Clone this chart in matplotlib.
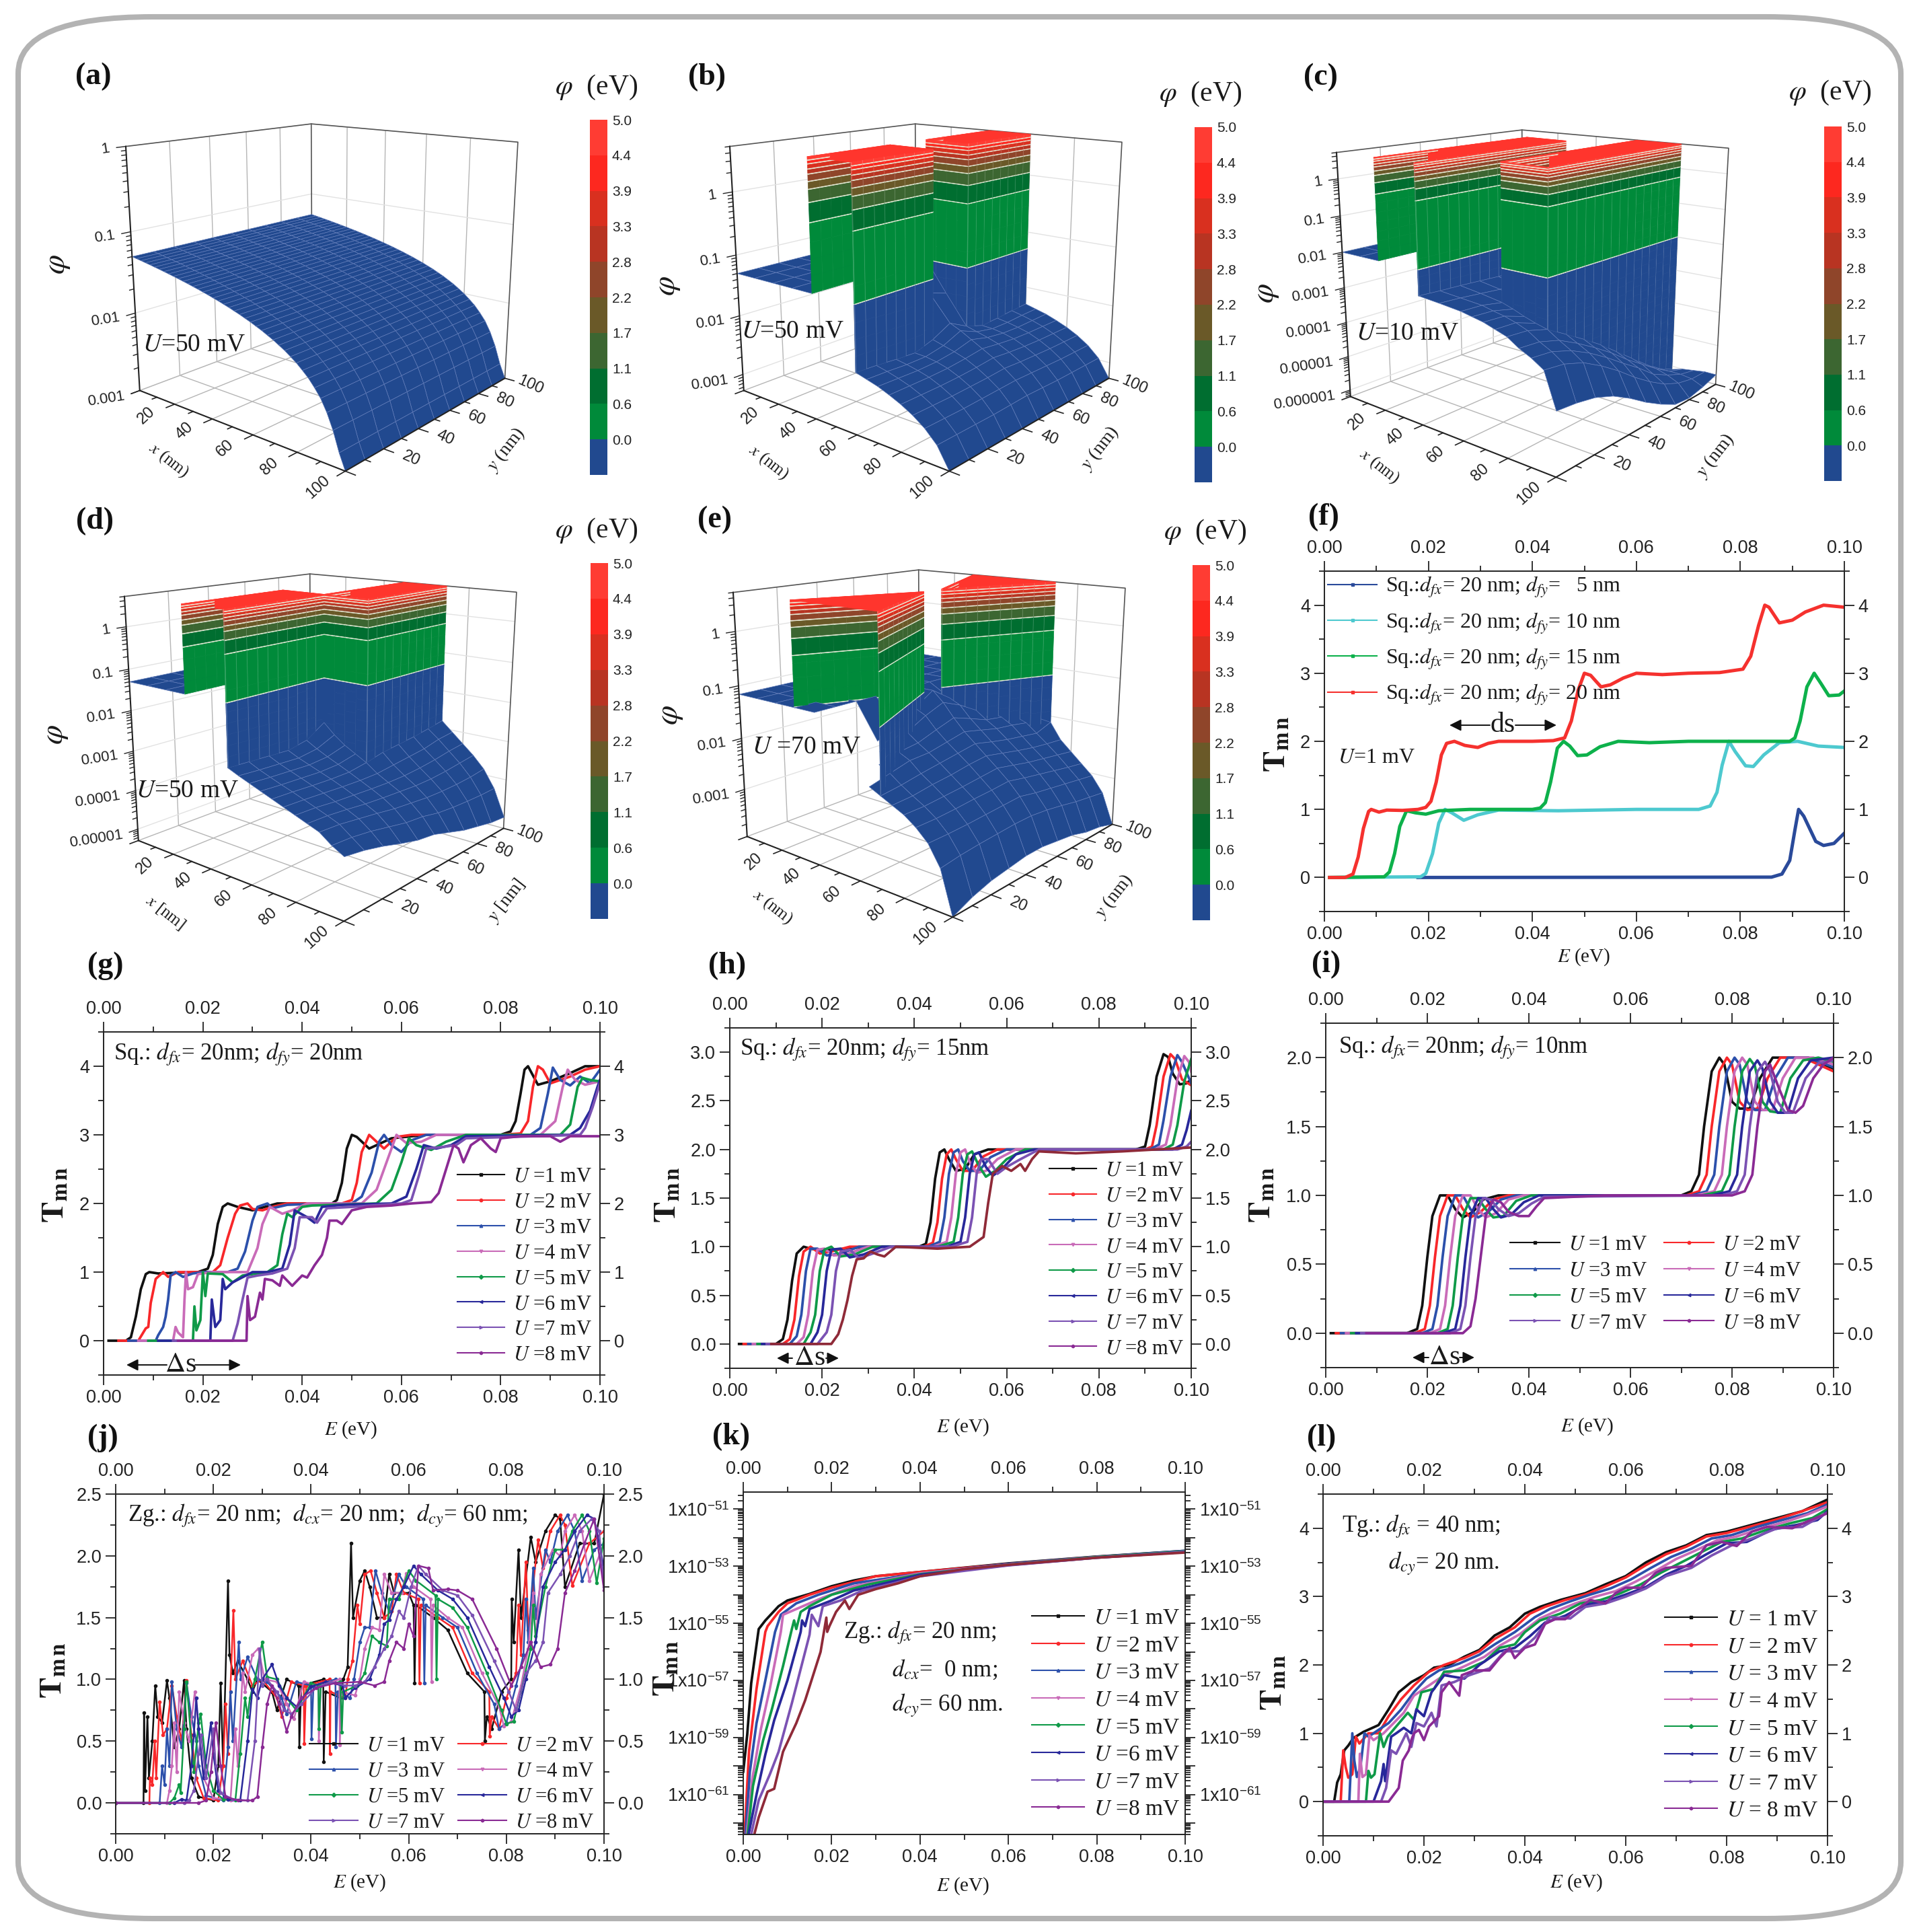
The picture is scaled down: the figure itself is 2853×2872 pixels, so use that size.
# transmission curves and potential surfaces, 12 panels
import numpy as np
import matplotlib
matplotlib.use("Agg")
import matplotlib.pyplot as plt
from matplotlib.colors import ListedColormap, BoundaryNorm, to_rgb
from matplotlib.lines import Line2D
from matplotlib.patches import FancyBboxPatch
from matplotlib.ticker import MultipleLocator, FixedLocator, NullFormatter, FormatStrFormatter
from mpl_toolkits.mplot3d.art3d import Poly3DCollection
from mpl_toolkits.mplot3d import proj3d

plt.rcParams['font.family'] = 'Liberation Sans'
plt.rcParams['mathtext.fontset'] = 'stix'

W, H = 2853, 2872
SERIF = 'Liberation Serif'

# ---- colour bar ----
bar_labels = ['0.0', '0.6', '1.1', '1.7', '2.2', '2.8', '3.3', '3.9', '4.4', '5.0']
bar_levels = [0.0001, 0.56, 1.1, 1.7, 2.2, 2.8, 3.3, 3.9, 4.4, 5.0]
BLUE = '#21498f'
band_colors = ['#008a3a', '#006e30', '#3c6631', '#6a5928', '#8f452a', '#b83422', '#d9301f', '#fd281f', '#ff3c33']

# ---- surfaces, log10(phi) ----
a_x = [0, 2.5, 5, 7.5, 10, 12.5, 15, 17.5, 20, 22.5, 25, 27.5, 30, 32.5, 35, 37.5, 40, 42.5, 45, 47.5, 50,
       52.5, 55, 57.5, 60, 62.5, 65, 67.5, 70, 72.5, 75, 77.5, 80, 82.5, 85, 87.5, 90, 92.5, 95, 97.5, 100]
a_phi = [.0500, .0487, .0475, .0462, .0450, .0437, .0425, .0412, .0400, .0387, .0375, .0362, .0350, .0337,
         .0325, .0312, .0300, .0287, .0275, .0262, .0250, .0237, .0225, .0212, .0200, .0187, .0175, .0162,
         .0150, .0137, .0125, .0112, .0100, .0087, .0075, .0062, .0050, .0037, .0025, .0015, .0010]
a_y = [0, 10, 20, 30, 40, 50, 60, 70, 80, 90, 100]

grid_y = [0, 10, 20, 30, 40, 50, 60, 70, 80, 90, 100]

b_x = [0, 10, 20, 30, 40, 50, 60, 65, 70, 75, 80, 85, 90, 95, 100]
b_blocks = [[(40, 0), (60, 0), (60, 40), (40, 40)], [(40, 60), (60, 60), (60, 100), (40, 100)]]
b_z = [
    [-1.30, -2.31, -2.36, -2.41, -2.48, -2.56, -2.66, -2.79, -2.97, -3.28],
    [-1.30, -2.33, -2.37, -2.42, -2.48, -2.56, -2.66, -2.79, -2.97, -3.28],
    [-1.30, -2.36, -2.39, -2.43, -2.48, -2.56, -2.66, -2.79, -2.97, -3.28],
    [-1.30, -2.38, -2.39, -2.42, -2.47, -2.55, -2.65, -2.78, -2.97, -3.28],
    [-1.80, -2.28, -2.33, -2.38, -2.44, -2.53, -2.64, -2.77, -2.96, -3.28],
    [-1.70, -2.12, -2.20, -2.30, -2.40, -2.50, -2.62, -2.76, -2.95, -3.28],
    [-1.80, -2.28, -2.33, -2.38, -2.44, -2.53, -2.64, -2.77, -2.96, -3.28],
    [-1.30, -2.38, -2.39, -2.42, -2.47, -2.55, -2.65, -2.78, -2.97, -3.28],
    [-1.30, -2.36, -2.39, -2.43, -2.48, -2.56, -2.66, -2.79, -2.97, -3.28],
    [-1.30, -2.33, -2.37, -2.42, -2.48, -2.56, -2.66, -2.79, -2.97, -3.28],
    [-1.30, -2.31, -2.36, -2.41, -2.48, -2.56, -2.66, -2.79, -2.97, -3.28]]

c_x = [0, 10, 20, 30, 40, 50, 60, 65, 70, 75, 80, 85, 90, 95, 100]
c_blocks = [[(20, 0), (40, 0), (40, 80), (20, 80)], [(60, 20), (80, 20), (80, 100), (60, 100)]]
c_z = [
    [-2, -2.67, -2.72, -2.78, -2.84, -2.90, -3.0, -3.10, -3.30, -3.45, -3.65, -4.55],
    [-2, -2.70, -2.75, -2.80, -2.87, -2.93, -3.02, -3.14, -3.34, -3.50, -3.72, -4.60],
    [-2, -2.72, -2.80, -2.90, -3.0, -3.12, -3.22, -3.30, -3.50, -3.68, -3.90, -4.70],
    [-2, -2.75, -2.85, -3.0, -3.3, -3.3, -3.3, -3.62, -3.78, -3.95, -4.20, -4.90],
    [-2, -2.78, -2.90, -3.05, -3.3, -3.3, -3.3, -3.95, -4.10, -4.28, -4.55, -5.20],
    [-2, -2.80, -2.93, -3.10, -3.3, -3.3, -3.3, -4.30, -4.45, -4.65, -4.95, -5.55],
    [-2, -2.82, -2.96, -3.15, -3.3, -3.3, -3.3, -4.70, -4.85, -5.00, -5.30, -5.85],
    [-2, -2.80, -2.98, -3.20, -3.3, -3.3, -3.3, -5.10, -5.20, -5.40, -5.60, -6.10],
    [-2, -2.55, -2.95, -3.25, -3.3, -3.3, -3.3, -5.50, -5.55, -5.65, -5.80, -6.15],
    [-2, -2.20, -2.80, -3.25, -3.3, -3.3, -3.3, -5.85, -5.85, -5.85, -5.90, -6.05],
    [-2, -2.10, -2.70, -3.30, -3.3, -3.3, -3.3, -6.10, -6.00, -5.95, -5.90, -5.90]]

d_x = [0, 10, 20, 30, 40, 50, 55, 60, 65, 70, 75, 80, 85, 90, 95, 100]
d_blocks = [[(30, 0), (50, 0), (50, 50), (30, 50)], [(50, 50), (70, 50), (70, 100), (50, 100)]]
d_z = [
    [-1.3, -2.74, -2.85, -2.95, -3.05, -3.15, -3.25, -3.35, -3.45, -3.55, -3.75, -3.90],
    [-1.3, -2.76, -2.88, -2.98, -3.08, -3.17, -3.27, -3.37, -3.47, -3.58, -3.78, -3.98],
    [-1.3, -2.78, -2.90, -3.00, -3.10, -3.20, -3.30, -3.42, -3.52, -3.65, -3.85, -4.10],
    [-1.3, -2.80, -2.92, -3.02, -3.12, -3.22, -3.33, -3.45, -3.58, -3.72, -3.95, -4.25],
    [-1.3, -2.70, -2.85, -2.98, -3.10, -3.22, -3.35, -3.48, -3.62, -3.80, -4.05, -4.38],
    [-1.3, -2.40, -2.65, -2.85, -3.00, -3.15, -3.35, -3.50, -3.65, -3.85, -4.10, -4.45],
    [-1.3, -1.30, -1.30, -1.30, -1.30, -3.05, -3.30, -3.50, -3.68, -3.90, -4.20, -4.60],
    [-1.3, -1.30, -1.30, -1.30, -1.30, -3.00, -3.25, -3.47, -3.68, -3.92, -4.25, -4.75],
    [-1.3, -1.30, -1.30, -1.30, -1.30, -2.95, -3.20, -3.42, -3.65, -3.92, -4.28, -4.85],
    [-1.3, -1.30, -1.30, -1.30, -1.30, -2.88, -3.10, -3.35, -3.60, -3.90, -4.30, -4.95],
    [-1.3, -1.30, -1.30, -1.30, -1.30, -2.80, -3.05, -3.30, -3.55, -3.85, -4.30, -5.00]]

e_x = [0, 10, 20, 30, 40, 50, 55, 60, 65, 70, 75, 80, 85, 90, 95, 100]
e_blocks = [[(30, 0), (70, 0), (50, 45)], [(50, 55), (70, 100), (30, 100)]]
e_z = [
    [-1.90, -2.00, -2.10, -2.20, -2.30, -2.40, -2.50, -2.65, -2.85, -3.20, -3.95],
    [-1.90, -1.95, -2.00, -2.10, -2.25, -2.38, -2.50, -2.65, -2.85, -3.15, -3.80],
    [-1.80, -1.85, -1.90, -2.00, -2.18, -2.32, -2.47, -2.63, -2.84, -3.12, -3.70],
    [-1.60, -1.70, -1.85, -1.98, -2.12, -2.28, -2.44, -2.60, -2.82, -3.10, -3.65],
    [-1.40, -1.50, -1.72, -1.90, -2.06, -2.22, -2.40, -2.58, -2.80, -3.08, -3.60],
    [-1.16, -1.35, -1.60, -1.82, -2.00, -2.18, -2.36, -2.55, -2.78, -3.08, -3.60],
    [-1.40, -1.50, -1.72, -1.90, -2.08, -2.25, -2.43, -2.62, -2.85, -3.12, -3.65],
    [-1.60, -1.70, -1.85, -1.98, -2.15, -2.32, -2.50, -2.68, -2.90, -3.18, -3.70],
    [-1.80, -1.85, -1.90, -2.02, -2.20, -2.38, -2.55, -2.74, -2.95, -3.25, -3.80],
    [-1.90, -1.95, -2.00, -2.08, -2.25, -2.42, -2.60, -2.80, -3.00, -3.30, -3.85],
    [-1.90, -2.00, -2.05, -2.10, -2.13, -2.45, -2.65, -2.85, -3.05, -3.35, -3.95]]

# ---- (f) E in meV, T ----
f_blue = [(18, 0), (86, .005), (88, .05), (89.5, .25), (90.5, .7), (91.2, 1), (92.2, .9), (94.5, .53), (96, .47), (98, .5), (100, .65)]
f_cyan = [(1, 0), (18.5, .01), (19.5, .06), (20.8, .35), (22, .8), (23.2, 1), (24.5, .95), (26.8, .84), (29.5, .92), (33.5, .99),
          (45, .98), (60, 1), (72, 1), (74.2, 1.05), (75.5, 1.25), (76.5, 1.65), (77.8, 2), (79, 1.85), (81, 1.64), (82.5, 1.63),
          (84.5, 1.8), (87.5, 1.98), (91, 2), (95, 1.93), (100, 1.91)]
f_green = [(1, 0), (11.5, .01), (12.5, .08), (13.5, .35), (14.5, .75), (15.8, .98), (17.5, .95), (19.5, .93), (22, .98), (28, 1), (40, 1),
           (41.5, 1.02), (42.5, 1.1), (43.5, 1.4), (44.8, 1.9), (46, 2), (47.2, 1.93), (48.7, 1.79), (50.5, 1.8), (53, 1.92), (56.5, 2),
           (62.5, 1.98), (70, 2), (89.5, 2), (90.5, 2.05), (91.5, 2.3), (92.8, 2.8), (94.2, 3), (95.5, 2.85), (97, 2.67), (99, 2.68), (100, 2.74)]
f_red = [(1, 0), (4, 0), (5.5, .05), (6.5, .3), (7.5, .72), (8.5, .97), (9, 1), (10.5, .96), (12, .99), (15, .985), (18, 1), (19.5, 1.03),
         (20.5, 1.12), (21.5, 1.4), (22.5, 1.8), (23.5, 1.97), (25, 2), (27, 1.94), (29.5, 1.91), (31.5, 1.97), (33.5, 2), (40, 2), (44, 2.01),
         (46.2, 2.05), (47.5, 2.3), (48.8, 2.75), (50, 3), (51.2, 2.97), (53.2, 2.8), (55, 2.83), (57.5, 2.93), (60, 3), (65, 2.98), (70, 3),
         (76, 3.01), (80.5, 3.06), (82, 3.25), (83.5, 3.7), (84.7, 4), (85.5, 3.97), (87.5, 3.74), (90, 3.78), (92.5, 3.9), (96, 4), (100, 3.97)]

# ---- (g) ----
g1 = [(1, 0), (4.5, 0), (5.5, .05), (6.5, .35), (7.5, .75), (8.5, .97), (9.2, 1), (11, .98), (15, .99), (19, 1), (21, 1.05), (22, 1.25), (23, 1.7),
      (24, 1.95), (25, 2), (27, 1.95), (30, 1.9), (35, 2), (46, 2), (47, 2.05), (48, 2.3), (49, 2.8), (50, 3), (51, 2.97), (53.5, 2.8), (58, 2.95),
      (65, 3), (80, 3), (82, 3.05), (83, 3.2), (84, 3.6), (84.8, 3.95), (85.5, 4), (87.5, 3.73), (90, 3.78), (94, 3.9), (97, 4), (100, 4)]
g2 = [(3, 0), (7, 0), (8.5, .18), (9, .2), (9.5, .55), (10.5, .9), (12, 1), (13, .93), (15, 1), (20, 1), (22, 1), (23.5, 1.1), (25, 1.5), (26.5, 1.85),
      (27.5, 1.97), (29, 2), (30, 1.92), (32, 1.9), (34, 1.95), (37, 2), (48, 2), (50, 2.05), (51, 2.3), (52, 2.75), (53.5, 3), (55, 2.9), (56.5, 2.8),
      (59, 2.97), (62, 3), (80, 3), (84, 3.02), (85.5, 3.2), (86.5, 3.7), (87.5, 4), (88.5, 3.95), (90, 3.75), (92, 3.8), (94, 3.85), (97, 3.95), (100, 4)]
g3 = [(5, 0), (10.5, 0), (11, .08), (12, .2), (12.5, .35), (13, .6), (13.5, .95), (14.5, 1), (16, .93), (18, .98), (20, 1), (25, 1), (27, 1.05), (28.5, 1.3),
      (30, 1.75), (31, 1.95), (33, 2), (34, 1.93), (37, 1.98), (45, 2), (50, 2), (52, 2.1), (54, 2.45), (55.5, 2.9), (56.5, 3), (58, 2.85), (60, 2.75),
      (62, 2.92), (65, 3), (86, 3), (88, 3.1), (89.5, 3.6), (90.5, 3.98), (92, 3.8), (94, 3.72), (96, 3.85), (98, 3.75), (100, 3.95)]
g4 = [(7, 0), (14, 0), (14.5, .2), (15, .12), (16, .05), (16.3, .6), (16.6, 1), (17, .75), (18, .78), (19, .97), (22, 1), (29, 1), (31, 1.35), (32, 1.7),
      (33.5, 1.95), (36, 1.85), (38, 1.9), (41, 2), (52, 2), (55, 2.2), (57, 2.6), (59, 3), (61, 2.88), (64, 2.9), (67, 3), (88, 3), (91, 3.2), (92.5, 3.7),
      (93.5, 3.95), (95, 3.8), (97, 3.73), (100, 3.78)]
g5 = [(9, 0), (18, 0), (18.3, .5), (18.7, .15), (19.5, .3), (20, 1), (20.5, .65), (21, .98), (24, .97), (26, .85), (28, .95), (33, 1), (35, 1.1), (36, 1.55),
      (37, 1.85), (38, 1.8), (40, 1.95), (42, 1.97), (55, 2), (58, 2.2), (60, 2.6), (61.5, 2.95), (63, 2.85), (66, 2.78), (69, 2.9), (73, 3), (92, 3), (94, 3.15),
      (95.5, 3.7), (96.5, 3.83), (98, 3.8), (100, 3.78)]
g6 = [(11, 0), (21.5, 0), (21.8, .6), (22.5, .2), (23.5, .3), (24, .9), (24.5, .75), (26, .85), (30, 1), (33, 1), (36, 1.05), (37.5, 1.4), (38.5, 1.9), (41, 1.8),
      (42.5, 1.72), (44, 1.95), (48, 1.98), (58, 2), (61, 2.1), (63, 2.5), (64.5, 2.85), (67, 2.8), (70, 2.85), (73, 2.98), (94, 3), (96, 3.1), (98, 3.35), (99.5, 3.7), (100, 3.8)]
g7 = [(14, 0), (26, 0), (27, .25), (28, .6), (29, .92), (31, .95), (34, .98), (37, 1.05), (38.5, 1.35), (39.5, 1.8), (42, 1.8), (43, 1.72), (45, 1.93), (50, 1.95), (60, 2),
      (62, 2.05), (63.5, 2.4), (65, 2.8), (68, 2.82), (71, 2.85), (73, 2.95), (96, 3), (97, 3.1), (98.5, 3.4), (100, 3.75)]
g8 = [(15, 0), (28.8, 0), (29, .65), (29.5, .3), (30.5, .35), (31.5, .7), (32, .6), (32.5, .9), (34, .88), (35.5, .8), (36, .95), (38, .8), (40, .95), (41, .92), (42.5, 1.1),
      (44, 1.25), (45, 1.5), (45.5, 1.75), (47, 1.75), (48, 1.7), (50, 1.9), (53, 1.95), (58, 1.97), (62, 2), (66, 2.02), (67.5, 2.15), (69, 2.5), (70.5, 2.85), (71.5, 2.8),
      (72.5, 2.6), (74, 2.85), (76, 2.95), (78, 2.8), (79, 2.75), (80, 2.95), (84, 2.98), (90, 2.98), (92, 2.9), (94, 2.98), (100, 2.98)]

# ---- (h) ----
h1 = [(2, 0), (10, 0), (11.5, .05), (12.5, .25), (13.5, .65), (14.5, .93), (16, 1), (17.5, .98), (20, .96), (30, 1), (41, 1), (42.5, 1.03), (43.5, 1.25), (44.5, 1.7), (45.5, 1.97),
      (46.5, 2), (47.5, 1.9), (49, 1.78), (51, 1.8), (53, 1.95), (56, 2), (65, 2), (88, 2), (90, 2.03), (91, 2.25), (92.5, 2.75), (94, 2.98), (95, 2.95), (96, 2.78), (97.5, 2.67), (99, 2.68), (100, 2.72)]
h2 = [(3, 0), (11.5, 0), (13, .05), (14, .25), (15, .7), (16, .95), (17.5, 1), (19.5, .93), (22, .95), (26, 1), (42, 1), (44, 1.04), (45, 1.25), (46, 1.7), (47, 1.95), (48, 2), (49, 1.9),
      (50.5, 1.78), (52.5, 1.78), (55, 1.93), (58, 2), (90, 2), (91.5, 2.03), (92.5, 2.25), (94, 2.75), (95.5, 2.98), (96.5, 2.93), (98, 2.72), (100, 2.66)]
h3 = [(4, 0), (13, 0), (14.5, .08), (15.5, .3), (16.5, .75), (17.5, .98), (19, .98), (21, .91), (24, .93), (28, 1), (43, 1), (45.5, 1.05), (46.5, 1.3), (47.5, 1.75), (48.5, 1.97), (49.5, 2),
      (50.5, 1.88), (52, 1.78), (54, 1.78), (56.5, 1.92), (60, 2), (91, 2), (93, 2.05), (94, 2.3), (95.5, 2.75), (97, 2.97), (98, 2.9), (100, 2.68)]
h4 = [(5, 0), (14.5, 0), (16, .07), (17, .3), (18, .75), (19, .97), (20.5, .98), (22.5, .91), (25, .92), (30, 1), (44, 1), (47, 1.05), (48, 1.3), (49, 1.75), (50, 1.97), (51, 2), (52, 1.87),
      (53.5, 1.76), (55.5, 1.78), (58, 1.9), (62, 2), (92, 2), (94.5, 2.05), (95.5, 2.25), (97, 2.72), (98.5, 2.96), (99.5, 2.9), (100, 2.8)]
h5 = [(6, 0), (16, 0), (17.5, .12), (18.5, .3), (19.5, .75), (20.5, .97), (22, 1), (24, .9), (27, .92), (31, 1), (45, 1), (48.5, 1.05), (49.5, 1.3), (50.5, 1.75), (51.5, 1.95), (52.5, 1.98),
      (54, 1.83), (55.5, 1.72), (57.5, 1.78), (60, 1.9), (64, 2), (94, 2), (96, 2.05), (97, 2.25), (98.5, 2.7), (100, 2.93)]
h6 = [(7, 0), (17.5, 0), (19, .12), (20, .3), (21, .75), (22, .97), (24, .98), (26, .89), (29, .92), (33, 1), (47, 1), (50, 1.05), (51, 1.3), (52, 1.75), (53, 1.95), (54, 1.97), (55.5, 1.82),
      (57, 1.73), (59, 1.8), (62, 1.95), (66, 2), (96, 2), (98, 2.05), (99, 2.2), (100, 2.4)]
h7 = [(8, 0), (19, 0), (21, .12), (22, .3), (23, .75), (24, .95), (26, .97), (28, .88), (31, .93), (35, 1), (48, 1), (51.5, 1.05), (52.5, 1.3), (53.5, 1.75), (54.5, 1.9), (56, 1.9), (58, 1.75),
      (60, 1.82), (63, 1.9), (67, 2), (97, 2), (99, 2.03), (100, 2.08)]
h8 = [(9, 0), (22, 0), (23.5, .1), (24.5, .25), (25.5, .45), (26.5, .7), (27.5, .87), (29, .88), (30.5, .95), (32, .92), (33.5, .9), (36, 1), (45, .98), (52, 1), (55, 1.1), (56, 1.45), (57, 1.75),
      (59, 1.83), (61, 1.78), (63, 1.85), (64, 1.78), (65.5, 1.9), (67, 1.98), (75, 1.96), (85, 1.98), (100, 2.02)]

# ---- (i) ----
i1 = [(1, 0), (16, 0), (18, .03), (19, .2), (20, .55), (21, .85), (22.5, 1), (24, 1), (25.5, .9), (27, .84), (29, .88), (31, .97), (34, 1), (70, 1), (72, 1.03), (73.5, 1.15), (74.5, 1.5), (76, 1.9),
      (77.5, 2), (78.5, 1.95), (80, 1.68), (81.5, 1.63), (83.5, 1.63), (85.5, 1.85), (88, 2), (95, 2), (100, 1.92)]
i2 = [(2, 0), (17.5, 0), (19.5, .03), (20.5, .2), (21.5, .55), (22.5, .85), (24, 1), (25.5, 1), (27, .9), (28.5, .84), (30.5, .88), (33, .97), (36, 1), (71, 1), (73.5, 1.03), (75, 1.15), (76, 1.5),
      (77.5, 1.9), (79, 2), (80, 1.95), (81.5, 1.68), (83, 1.62), (85, 1.63), (87, 1.85), (89.5, 2), (94, 2), (100, 1.9)]
i3 = [(3, 0), (19, 0), (21, .03), (22, .2), (23, .55), (24, .85), (25.5, 1), (27, 1), (28.5, .9), (30, .84), (32, .88), (34.5, .97), (37.5, 1), (72, 1), (75, 1.03), (76.5, 1.15), (77.5, 1.5), (79, 1.9),
      (80.5, 2), (81.5, 1.95), (83, 1.68), (84.5, 1.62), (86.5, 1.62), (88.5, 1.85), (91, 2), (95, 2), (100, 1.93)]
i4 = [(4, 0), (20.5, 0), (22.5, .03), (23.5, .2), (24.5, .55), (25.5, .85), (27, 1), (28.5, 1), (30, .9), (31.5, .84), (33.5, .87), (36, .97), (39, 1), (73, 1), (76.5, 1.03), (78, 1.15), (79, 1.5),
      (80.5, 1.9), (82, 2), (83, 1.95), (84.5, 1.68), (86, 1.62), (88, 1.62), (90, 1.85), (92.5, 2), (96, 2), (100, 1.95)]
i5 = [(5, 0), (22, 0), (24, .03), (25, .2), (26, .55), (27, .85), (28.5, .98), (30, .98), (31.5, .9), (33, .84), (35, .85), (37.5, .96), (40.5, 1), (74, 1), (78, 1.03), (79.5, 1.15), (80.5, 1.5), (82, 1.9),
      (83.5, 1.99), (84.5, 1.94), (86, 1.68), (87.5, 1.61), (89.5, 1.6), (91.5, 1.85), (94, 1.98), (97, 2), (100, 1.97)]
i6 = [(6, 0), (23, 0), (25.5, .03), (26.5, .2), (27.5, .55), (28.5, .85), (30, .98), (31.5, .98), (33, .9), (34.5, .84), (36.5, .86), (39, .95), (42, 1), (76, 1), (79.5, 1.03), (81, 1.15), (82, 1.5),
      (83.5, 1.9), (85, 1.98), (86, 1.92), (87.5, 1.68), (89, 1.6), (91, 1.6), (93, 1.85), (95.5, 1.98), (100, 2)]
i7 = [(7, 0), (24.5, 0), (26.5, .03), (27.5, .2), (28.5, .55), (29.5, .85), (31, .98), (32.5, .97), (34, .9), (36, .85), (38, .87), (40.5, .94), (43, .99), (78, 1), (81, 1.03), (82.5, 1.15), (83.5, 1.5),
      (85, 1.9), (86.5, 1.97), (87.5, 1.9), (89, 1.68), (90.5, 1.6), (92, 1.6), (94.5, 1.85), (97, 1.96), (100, 1.98)]
i8 = [(8, 0), (27, 0), (28.5, .05), (29.5, .25), (30.5, .55), (31.5, .85), (33, .97), (34.5, .95), (36, .88), (38, .85), (40, .85), (41.5, .92), (43, .98), (55, 1), (80, 1), (82.5, 1.03), (84, 1.15), (85, 1.5),
      (86.5, 1.9), (87.5, 1.95), (89, 1.8), (91, 1.62), (92.5, 1.6), (94, 1.65), (96, 1.85), (98, 1.95), (100, 2)]

# ---- (j) ----
j1 = [(0, 0), (5.7, 0), (5.8, .73), (6, .1), (6.5, .7), (6.8, .2), (7.5, .5), (8.1, .95), (8.6, .7), (9.5, .65), (10.5, .99), (11, .85), (12, .45), (13, .6), (14, .99), (14.5, .6), (15.5, .2), (17, .05),
      (20, .02), (21, .3), (21.5, .97), (22, .3), (23, 1.8), (23.3, 1.2), (24, 1.05), (25, 1.15), (27, 1), (28, .9), (29, 1), (32, .9), (33, .75), (35, 1), (37.5, .95), (37.6, .45), (38, .95), (42.5, 1),
      (42.6, .33), (43, .9), (46, .85), (46.6, 1), (47.5, 1.1), (48.2, 2.1), (48.6, 1.5), (50, 1.8), (51, 1.88), (52, 1.75), (53.5, 1.5), (55, 1.5), (56, 1.85), (57, 1.7), (60, 1.7), (61, 1.6), (61.2, .97),
      (61.5, 1.6), (65, 1.5), (68, 1.4), (72, 1.05), (75.5, .9), (75.6, .5), (76, .7), (77, .6), (79, .9), (81, 1), (81.1, 1.65), (81.5, 1.3), (82.5, 2.05), (83, 1.5), (85, 2.15), (86, 1.95), (88, 2.2), (90, 2.33),
      (91, 2.3), (92, 1.75), (95, 2.1), (98, 2.1), (100, 2.5)]
j2 = [(0, 0), (6.9, 0), (7, .2), (7.5, .15), (8, .5), (8.3, .2), (9, .82), (9.7, .55), (10.5, .6), (11.5, .95), (12.5, .7), (13.5, .5), (14.5, .99), (15.5, .55), (16.5, .2), (18, .04), (21, .02), (22, .3), (22.5, .8),
      (23, .4), (24.1, 1.56), (24.5, 1), (26, 1.15), (28, .95), (30, 1), (33, .85), (34, .7), (36, .98), (38.5, .95), (38.6, .48), (39, .95), (43.8, 1), (43.9, .4), (44, .9), (47, .85), (47.5, 1), (48.5, 1.15),
      (49.5, 1.6), (50, 1.45), (51, 1.85), (52.2, 1.88), (53.5, 1.7), (55, 1.5), (56.5, 1.55), (57.5, 1.85), (59, 1.7), (62, 1.65), (62.2, .97), (62.5, 1.6), (66, 1.5), (69, 1.42), (73, 1.05), (76.5, .9), (76.6, .54),
      (77, .7), (78.5, .6), (80, .85), (82, 1.05), (82.5, 1.6), (83, 1.2), (84, 1.95), (84.5, 1.4), (86.5, 2.13), (87.5, 1.9), (89, 2.2), (91, 2.33), (92, 2.25), (93.5, 1.76), (97, 2.1), (100, 2.2)]
j3 = [(0, 0), (9, 0), (9.5, .3), (10, .15), (10.5, .6), (11, .3), (11.5, .98), (12.5, .6), (13.5, .45), (14.5, .97), (15.5, .7), (16.5, .5), (17, .3), (18.5, .06), (22, .02), (23, .45), (23.5, .9), (24, .5), (25.2, 1.3),
      (25.6, 1), (27, 1.18), (29, 1), (31, .98), (34, .85), (35, .72), (37, .98), (40, .95), (40.1, .52), (40.5, .95), (45, 1), (45.1, .45), (45.5, .9), (48, .85), (48.8, 1), (50, 1.3), (51, 1.42), (52, 1.42), (53.2, 1.88),
      (54.5, 1.7), (56, 1.55), (58, 1.85), (59.5, 1.75), (63, 1.65), (63.2, .97), (63.5, 1.6), (67, 1.5), (70, 1.42), (74, 1.05), (77.5, .8), (78.5, .6), (80, .65), (82, .95), (83.5, 1.2), (84, 1.65), (84.5, 1.3),
      (85.5, 1.9), (86, 1.5), (88, 2.05), (89, 1.95), (90.5, 2.2), (92.5, 2.33), (94, 2.2), (95.5, 1.8), (98, 2.05), (100, 2.1)]
j4 = [(0, 0), (10.5, 0), (11, .1), (11.5, .3), (12, .65), (12.5, .25), (13, .9), (14, .65), (15, .5), (16.2, .9), (17, .6), (18, .2), (20, .04), (23.5, .02), (24.5, .6), (25, .3), (26, 1.05), (26.5, .9), (28, 1.2), (29.2, 1.25),
      (30.5, 1), (33, .98), (35, .8), (36.5, .68), (38.5, .98), (41.5, .95), (41.6, .5), (42, .95), (45.8, 1), (45.9, .47), (46.2, .9), (49, .87), (50, 1), (51, 1.25), (52.5, 1.42), (54, 1.4), (55, 1.85), (56.5, 1.7),
      (58.5, 1.7), (59.5, 1.86), (61, 1.75), (64.5, 1.65), (64.7, .98), (65, 1.6), (68, 1.5), (71, 1.42), (75, 1.05), (78.5, .78), (79.5, .62), (81, .66), (83, .95), (84.5, 1.25), (85.5, 1.7), (86, 1.3), (87, 1.85), (89.5, 2.05),
      (91, 2), (92, 2.2), (94, 2.33), (95.5, 2.2), (97, 1.8), (100, 2.1)]
j5 = [(0, 0), (11, 0), (12, .04), (13, .15), (13.3, .08), (14, .6), (14.5, .98), (15.5, .5), (16, .25), (17, .65), (17.4, .72), (18.5, .3), (20, .1), (22, .03), (24.5, .02), (25.5, .4), (26.5, .85), (27, .7), (27.5, .85), (28.5, 1),
      (30, 1.3), (31, 1.02), (33, 1), (35, .85), (37, .75), (40, .97), (41.5, .95), (41.6, .6), (42, .95), (46, .98), (46.3, .57), (46.6, .9), (49.5, .95), (51, 1.05), (52.5, 1.35), (54, 1.3), (55.5, 1.27), (56, 1.65), (58, 1.65),
      (60, 1.88), (61.5, 1.8), (65.5, 1.68), (65.7, 1), (66, 1.65), (69, 1.58), (72, 1.42), (76, 1.05), (79, .75), (80, .64), (81.5, .66), (83, .9), (85, 1.25), (85.5, 1.6), (86, 1.35), (88, 1.75), (90, 2.05), (92, 2.05), (93.5, 2.2),
      (95.5, 2.33), (97, 2.2), (98.5, 1.78), (100, 2.14)]
j6 = [(0, 0), (12, 0), (13.5, .03), (14.5, .02), (15.5, .3), (16, .55), (16.5, .85), (17, .6), (18, .2), (19.5, .65), (20, .4), (21, .1), (23, .03), (25.5, .02), (27, .5), (28, .92), (29, .85), (30, 1), (32, 1.12), (33.5, .95),
      (35, .85), (37, .78), (40, .94), (43, .98), (46.5, .95), (47, .85), (49, .93), (52, 1), (54, 1.2), (55, 1.45), (56, 1.48), (57.5, 1.65), (59, 1.75), (61, 1.92), (62.5, 1.85), (66, 1.72), (69, 1.65), (72, 1.5), (76.5, 1.1), (79.5, .85),
      (81, .7), (82.5, .75), (84, 1), (86, 1.3), (87.5, 1.75), (90, 1.95), (92, 2.05), (94, 2.2), (96.5, 2.33), (98, 2.3), (100, 1.9)]
j7 = [(0, 0), (14, 0), (15, .02), (16, .1), (17, .4), (17.5, .55), (18.5, .2), (20, .6), (20.5, .3), (21.5, .08), (24, .03), (27, .02), (28.5, .5), (29.5, 1.25), (30, .95), (31, 1), (33, .9), (34.5, .75), (36, .72), (38, .8), (41, .93),
      (44, .98), (47, .95), (49, .95), (51, .98), (53, 1.1), (55, 1.25), (56.5, 1.35), (58, 1.55), (59, 1.5), (60.5, 1.75), (62, 1.92), (63.5, 1.85), (67, 1.72), (70, 1.68), (73, 1.52), (77.5, 1.15), (80.5, .9), (82, .75),
      (84, 1.05), (86, 1.15), (87.5, 1.3), (88.5, 1.7), (91, 1.85), (93, 2), (95, 2.2), (97.5, 2.3), (99, 2.2), (100, 1.75)]
j8 = [(0, 0), (17, 0), (18.5, .02), (19.5, .25), (20.5, .65), (21.5, .3), (22.5, .05), (25, .02), (28, .02), (29, .05), (30, .45), (31, .8), (32, .95), (33.5, .8), (35, .58), (36, .7), (38, .85), (41, .93), (45, .97), (50, .98), (53, .95),
      (55, .98), (56, 1.15), (57.5, 1.3), (59, 1.25), (60, 1.45), (61, 1.35), (62, 1.92), (64, 1.9), (65, 1.72), (68, 1.73), (70, 1.72), (73, 1.65), (78, 1.25), (81, .95), (83, 1.1), (85, 1.3), (87, 1.1), (89, 1.12), (90.5, 1.25),
      (92, 1.7), (94, 1.88), (96, 2.1), (98, 2.3), (100, 1.72)]

# ---- (k) log10 T ----
k1 = [(0, -60.2), (.9, -58.9), (1.8, -57.1), (3.5, -55.2), (5, -54.9), (8, -54.4), (10, -54.2), (15, -53.97), (20, -53.7), (25, -53.5), (30, -53.35), (40, -53.2), (60, -52.9), (80, -52.66), (100, -52.46)]
k2 = [(.3, -62.4), (1.3, -59.5), (3, -57.3), (5, -55.3), (5.5, -55.1), (8, -54.6), (10, -54.3), (15, -54), (20, -53.75), (30, -53.35), (40, -53.2), (60, -52.92), (80, -52.67), (100, -52.47)]
k3 = [(.5, -62.4), (1.5, -60.2), (3, -58.5), (5, -57), (7.2, -55.3), (8.5, -54.7), (12, -54.3), (17, -54), (25, -53.6), (40, -53.25), (60, -52.92), (80, -52.67), (100, -52.46)]
k4 = [(.8, -62.4), (2, -60.5), (4, -58.7), (6, -57.3), (8.5, -55.3), (9, -54.7), (12, -54.5), (18, -54.1), (25, -53.7), (40, -53.25), (60, -52.94), (80, -52.68), (100, -52.48)]
k5 = [(1, -62.4), (2.2, -60.7), (4.5, -59.1), (6.5, -58), (9, -56.5), (11, -55.2), (11.5, -54.9), (12, -55.2), (13, -54.6), (15, -54.4), (20, -54), (28, -53.65), (40, -53.28), (60, -52.95), (80, -52.68), (100, -52.48)]
k6 = [(1.2, -62.4), (3, -61), (5, -59.6), (7, -58.4), (10, -57), (13, -55.3), (13.3, -54.9), (14, -55.1), (15, -54.5), (20, -54.2), (25, -53.85), (32, -53.6), (40, -53.3), (60, -52.96), (80, -52.7), (100, -52.5)]
k7 = [(1.8, -62.4), (3.5, -61.2), (6, -60.3), (8, -59.5), (11, -57.8), (15, -55.4), (15.5, -54.7), (17, -55.1), (18, -54.4), (22, -54.2), (27, -53.85), (34, -53.6), (40, -53.35), (60, -52.97), (80, -52.7), (100, -52.5)]
k8 = [(2.5, -62.4), (3.5, -61.8), (5.5, -60.9), (7, -60.8), (9, -59.5), (12, -58.5), (14, -57.7), (17.5, -56), (18.8, -54.8), (19, -55.3), (19.5, -55.1), (21, -54.6), (23, -54.2), (24, -54.5), (26, -54), (30, -53.8), (35, -53.6),
      (40, -53.35), (50, -53.1), (60, -52.95), (80, -52.7), (100, -52.52)]

# ---- (l) ----
l1 = [(0, 0), (2.2, 0), (2.8, .28), (3.5, .4), (4.2, .75), (5, .82), (6, .93), (8, 1.02), (11, 1.12), (13, 1.35), (15, 1.6), (17.5, 1.75), (20, 1.85), (22, 1.96), (25, 2), (28, 2.12), (31, 2.22), (34, 2.43), (37, 2.55), (40, 2.75),
      (43, 2.85), (47, 2.95), (52, 3.05), (56, 3.18), (60, 3.3), (64, 3.5), (68, 3.65), (72, 3.75), (76, 3.9), (80, 3.95), (85, 4.05), (90, 4.15), (95, 4.25), (100, 4.42)]
l2 = [(0, 0), (3.5, 0), (4, .75), (4.5, .5), (5, .35), (5.8, .4), (6.5, .95), (7.2, .85), (9, 1), (11, 1), (13, 1.25), (15.5, 1.5), (18, 1.7), (21, 1.9), (24, 2), (28, 2.1), (31, 2.2), (34, 2.38), (38, 2.55), (41, 2.75), (44, 2.85),
      (48, 2.95), (52, 3.03), (56, 3.15), (60, 3.28), (64, 3.46), (68, 3.62), (72, 3.73), (76, 3.88), (80, 3.93), (85, 4.03), (90, 4.13), (95, 4.25), (100, 4.38)]
l3 = [(0, 0), (5.2, 0), (5.8, 1), (6.2, .6), (6.7, .36), (7.4, .5), (8.2, 1), (9, .95), (11, 1.05), (13, 1.15), (15.5, 1.35), (18, 1.6), (20.5, 1.8), (23, 1.92), (27, 2.02), (31, 2.15), (34, 2.3), (38, 2.48), (42, 2.7), (45, 2.82),
      (49, 2.93), (53, 3.03), (57, 3.12), (61, 3.25), (65, 3.42), (69, 3.58), (73, 3.7), (77, 3.85), (81, 3.9), (86, 4.02), (91, 4.12), (96, 4.22), (100, 4.35)]
l4 = [(0, 0), (7, 0), (7.3, .7), (7.8, .36), (8.5, .4), (9.2, .97), (10, .9), (12, 1), (14, 1.15), (16, 1.3), (18, 1.55), (21, 1.7), (24, 1.85), (28, 1.98), (32, 2.12), (35, 2.28), (39, 2.45), (43, 2.68), (46, 2.78), (50, 2.9),
      (54, 3), (58, 3.08), (62, 3.22), (66, 3.38), (70, 3.55), (74, 3.68), (78, 3.82), (82, 3.88), (87, 4), (92, 4.1), (96, 4.2), (100, 4.32)]
l5 = [(0, 0), (8.5, 0), (9, .45), (9.5, .35), (10.2, .4), (11.3, 1), (12, .8), (12.8, .95), (14.5, 1.1), (16.8, 1.3), (18, 1.2), (19.5, 1.6), (22, 1.65), (24, 1.9), (28, 1.92), (32, 2.05), (35, 2.25), (38, 2.3), (40, 2.48), (43, 2.65),
      (47, 2.75), (51, 2.9), (55, 2.95), (59, 3.05), (63, 3.18), (67, 3.35), (71, 3.5), (75, 3.65), (79, 3.8), (83, 3.85), (88, 3.98), (93, 4.08), (97, 4.15), (100, 4.28)]
l6 = [(0, 0), (10, 0), (10.5, .1), (11.5, .3), (12, .55), (12.3, .3), (13.5, .95), (14.5, 1), (16, 1.08), (17.5, 1), (18.5, 1.35), (20, 1.25), (21.5, 1.6), (24, 1.85), (28, 1.8), (31, 2), (35, 2.2), (38, 2.25), (41, 2.42), (44, 2.62),
      (48, 2.72), (52, 2.88), (56, 2.93), (60, 3.03), (64, 3.14), (68, 3.32), (72, 3.45), (76, 3.62), (80, 3.78), (84, 3.8), (89, 3.98), (94, 4.05), (98, 4.12), (100, 4.25)]
l7 = [(0, 0), (11.5, 0), (12, .1), (12.5, .2), (13.5, .75), (14.5, .7), (15.5, .85), (16.5, 1), (17.5, .8), (18.5, 1.15), (20, 1.1), (21.5, 1.3), (22.5, 1.1), (23.5, 1.7), (26, 1.75), (29, 1.85), (33, 1.95), (36, 2.2), (39, 2.2),
      (42, 2.4), (45, 2.7), (49, 2.68), (52, 2.85), (56, 2.9), (60, 3), (64, 3.12), (68, 3.3), (73, 3.42), (77, 3.6), (81, 3.75), (85, 3.85), (90, 4), (95, 4.02), (100, 4.23)]
l8 = [(0, 0), (13, 0), (14, .1), (15, .2), (15.8, .6), (17, .75), (17.5, .9), (18, 1), (19, 1.05), (20, .9), (21, 1.1), (23, 1.25), (23.5, 1.6), (25, 1.75), (27, 1.55), (27.5, 1.85), (30, 1.92), (33, 1.92), (35, 2.1), (37, 2.25),
      (38, 2.1), (40, 2.25), (42, 2.3), (44, 2.6), (46, 2.67), (48, 2.67), (50, 2.8), (53, 2.95), (56, 2.9), (58, 3.05), (60, 3.13), (63, 3.13), (66, 3.35), (68, 3.42), (73, 3.45), (76, 3.75), (79, 3.8), (82, 3.74), (85, 3.95),
      (88, 4.02), (93, 4), (96, 4.1), (100, 4.22)]

U_colors = ['#111111', '#f8272a', '#2c50ab', '#c96bb8', '#0f9a48', '#28289a', '#7b52b3', '#8a2a94']
U_markers = ['s', 'o', '^', 'v', 'D', '<', '>', 'h']
U_labels = ['$U$ =%d mV' % n for n in range(1, 9)]
# two column legends read row by row
two_col = [0, 2, 4, 6, 1, 3, 5, 7]

fig = plt.figure(figsize=(W / 100, H / 100), dpi=100, facecolor='white')

ov = fig.add_axes([0, 0, 1, 1])
ov.set_xlim(0, W)
ov.set_ylim(H, 0)
ov.axis('off')
ov.set_zorder(10)
ov.patch.set_visible(False)

ov.add_patch(FancyBboxPatch((27, 25), 2799, 2827, boxstyle='round,pad=0,rounding_size=200', mutation_aspect=0.42,
                            fc='none', ec='#b3b3b3', lw=5.8))


def txt(x, y, s, size=22, **kw):
    kw.setdefault('family', SERIF)
    kw.setdefault('ha', 'center')
    kw.setdefault('va', 'center')
    kw.setdefault('color', '#1a1a1a')
    ov.text(x, y, s, fontsize=size, **kw)


def lighten(col, f=.22):
    c = np.array(to_rgb(col))
    return tuple(c + (1 - c) * f)


def z_at(xs, ys, Z, x, y):
    row = np.array([np.interp(x, xs, r) for r in Z])
    return np.interp(y, ys, row)


def in_block(b, x, y):
    # blocks are convex and anticlockwise, the edge counts as inside
    n = len(b)
    for k in range(n):
        ax_, ay_ = b[k]
        bx_, by_ = b[(k + 1) % n]
        if (bx_ - ax_) * (y - ay_) - (by_ - ay_) * (x - ax_) < -1e-6:
            return False
    return True


def wall_polys(p, q, zp, zq, U, thick):
    # one wall segment split in colour bands
    polys, cols = [], []
    bnd = np.log10([U] + bar_levels[1:])
    ints = []
    z = min(zp, zq)
    while z < bnd[0] - 1e-6:
        z2 = min(z + .25, bnd[0])
        ints.append((z, z2, BLUE))
        z = z2
    for i in range(9):
        z = bnd[i] + thick
        while z < bnd[i + 1] - 1e-6:
            z2 = min(z + .25, bnd[i + 1])
            ints.append((z, z2, band_colors[i]))
            z = z2
    dx, dy = (q[0] - p[0]), (q[1] - p[1])
    for k, (z0, z1, col) in enumerate(ints):
        a = zp if k == 0 else z0
        b = zq if k == 0 else z0
        polys.append([(p[0], p[1], a), (q[0], q[1], b), (q[0], q[1], z1), (p[0], p[1], z1)])
        cols.append(col)
        s = .06
        polys.append([(p[0], p[1], a), (p[0] + s * dx, p[1] + s * dy, b), (p[0] + s * dx, p[1] + s * dy, z1), (p[0], p[1], z1)])
        cols.append(lighten(col))
    for i in range(9):
        polys.append([(p[0], p[1], bnd[i]), (q[0], q[1], bnd[i]), (q[0], q[1], bnd[i] + thick), (p[0], p[1], bnd[i] + thick)])
        cols.append('#e8ecd8')
    return polys, cols


def surface_3d(off_x, off_y, zmin, zmax, U, xs, ys, Z, blocks, ztick_vals, ztick_labels):
    # all panels share one camera, only the position changes
    size = 800
    x0 = 73 + off_x
    ybot = 810 + off_y
    ax = fig.add_axes([x0 / W, (H - ybot) / H, size / W, size / H], projection='3d')
    ax.patch.set_visible(False)
    ax.set_axis_off()
    ax.computed_zorder = False
    ax.set_xlim3d(0, 100, view_margin=0)
    ax.set_ylim3d(0, 100, view_margin=0)
    ax.set_zlim3d(zmin, zmax, view_margin=0)
    ax.set_box_aspect((1, 1, .925), zoom=.818)
    ax.view_init(elev=15, azim=-50)
    ax.set_proj_type('persp', focal_length=.31)

    thick = .004 * (zmax - zmin)
    polys, face, edge = [], [], []
    for j in range(len(ys) - 1):
        for i in range(len(xs) - 1):
            corners = [(xs[i], ys[j]), (xs[i + 1], ys[j]), (xs[i + 1], ys[j + 1]), (xs[i], ys[j + 1])]
            if any(all(in_block(b, cx, cy) for cx, cy in corners) for b in blocks):
                continue
            polys.append([(xs[i], ys[j], Z[j][i]), (xs[i + 1], ys[j], Z[j][i + 1]),
                          (xs[i + 1], ys[j + 1], Z[j + 1][i + 1]), (xs[i], ys[j + 1], Z[j + 1][i])])
            face.append(BLUE)
            edge.append('#5f7ab8')
    for b in blocks:
        n = len(b)
        for k in range(n):
            a, c = b[k], b[(k + 1) % n]
            if (a[1] == c[1]) and a[1] in (0, 100):
                continue  # open at the y ends
            ln = np.hypot(c[0] - a[0], c[1] - a[1])
            m = int(np.ceil(ln / 5))
            for t in range(m):
                p = (a[0] + (c[0] - a[0]) * t / m, a[1] + (c[1] - a[1]) * t / m)
                q = (a[0] + (c[0] - a[0]) * (t + 1) / m, a[1] + (c[1] - a[1]) * (t + 1) / m)
                pp, cc = wall_polys(p, q, z_at(xs, ys, Z, p[0], p[1]), z_at(xs, ys, Z, q[0], q[1]), U, thick)
                polys += pp
                face += cc
                edge += cc
        top = np.log10(5.0)
        polys.append([(v[0], v[1], top) for v in b])
        face.append('#ff352d')
        edge.append('#ff352d')
    coll = Poly3DCollection(polys, facecolors=face, edgecolors=edge, linewidths=.5, zsort='average', zorder=2)
    ax.add_collection3d(coll, autolim=False)

    # box, grid
    gc = '#b5b5b5'
    for v in [20, 40, 60, 80]:
        ax.plot([v, v], [0, 100], [zmin, zmin], color=gc, lw=1, zorder=1)
        ax.plot([0, 100], [v, v], [zmin, zmin], color=gc, lw=1, zorder=1)
        ax.plot([v, v], [100, 100], [zmin, zmax], color=gc, lw=1, zorder=1)
        ax.plot([0, 0], [v, v], [zmin, zmax], color=gc, lw=1, zorder=1)
    for z in ztick_vals:
        ax.plot([0, 0], [0, 100], [z, z], color='#e2e2e2', lw=1, zorder=1)
        ax.plot([0, 100], [100, 100], [z, z], color='#e2e2e2', lw=1, zorder=1)
    dk = '#555555'
    ax.plot([0, 0, 100], [0, 100, 100], [zmin, zmin, zmin], color=gc, lw=1, zorder=1)
    ax.plot([0, 0, 100, 100], [0, 100, 100, 100], [zmax, zmax, zmax, zmin], color=dk, lw=1.2, zorder=1)
    ax.plot([0, 0], [100, 100], [zmin, zmax], color=dk, lw=1.2, zorder=1)
    ax.plot([0, 0], [0, 0], [zmin, zmax], color='#222222', lw=1.5, zorder=3)
    ax.plot([0, 100, 100], [0, 0, 100], [zmin, zmin, zmin], color='#222222', lw=1.5, zorder=3)
    # ticks
    for v in range(0, 101, 10):
        ln = 4 if v % 20 == 0 else 2.2
        ax.plot([v, v], [0, -ln], [zmin, zmin], color='#222222', lw=1.2, zorder=3)
        ax.plot([100, 100 + ln], [v, v], [zmin, zmin], color='#222222', lw=1.2, zorder=3)
    for k in range(int(np.floor(zmin)), int(np.ceil(zmax)) + 1):
        for m in range(1, 10):
            z = k + np.log10(m)
            if z < zmin or z > zmax:
                continue
            ln = 4 if m == 1 else 2
            ax.plot([0, 0], [0, -ln], [z, z], color='#222222', lw=1, zorder=3)

    # tick labels go on the overlay, at the projected place of the tick
    ax.apply_aspect()

    def place(x, y, z):
        xp, yp, _ = proj3d.proj_transform(x, y, z, ax.get_proj())
        px, py = ax.transData.transform((xp, yp))
        return px, H - py

    for v in [20, 40, 60, 80, 100]:
        px, py = place(v, -13, zmin)
        txt(px, py, str(v), size=17, rotation=42, family='Liberation Sans', color='#222222')
        px, py = place(111, v, zmin)
        txt(px, py, str(v), size=17, rotation=-24, family='Liberation Sans', color='#222222')
    for z, s in zip(ztick_vals, ztick_labels):
        px, py = place(0, -7, z)
        txt(px, py, s, size=16, rotation=9, family='Liberation Sans', color='#222222', ha='right', rotation_mode='anchor')
    return ax


def colorbar_panel(x0, x1, y0, y1):
    cax = fig.add_axes([x0 / W, (H - y1) / H, (x1 - x0) / W, (y1 - y0) / H])
    cmap = ListedColormap([BLUE] + band_colors)
    edges = np.arange(11)
    cax.pcolormesh([0, 1], edges, (edges[:-1] + .5).reshape(-1, 1), cmap=cmap,
                   norm=BoundaryNorm(edges, cmap.N))
    cax.set_xticks([])
    cax.yaxis.tick_right()
    cax.set_yticks(np.arange(1, 11))
    cax.set_yticklabels(bar_labels, fontsize=15, color='#222222')
    cax.tick_params(axis='y', length=0, pad=5)
    for sp in cax.spines.values():
        sp.set_visible(False)
    return cax


def panel_2d(l, r, t, b, ylim, ymaj=None, ymin=None, yfmt='%d', logy=False):
    ax = fig.add_axes([l / W, (H - b) / H, (r - l) / W, (b - t) / H])
    ax.set_facecolor('none')
    ax.set_xlim(0, .1)
    if logy:
        ax.set_yscale('log')
    ax.set_ylim(*ylim)
    ax.xaxis.set_major_locator(MultipleLocator(.02))
    ax.xaxis.set_minor_locator(MultipleLocator(.01))
    ax.xaxis.set_major_formatter(FormatStrFormatter('%.2f'))
    if not logy:
        ax.yaxis.set_major_locator(MultipleLocator(ymaj))
        ax.yaxis.set_minor_locator(MultipleLocator(ymin))
        ax.yaxis.set_major_formatter(FormatStrFormatter(yfmt))
    ax.tick_params(which='both', direction='out', top=True, right=True, labeltop=True, labelright=True,
                   width=1.3, color='#222222', labelcolor='#222222')
    ax.tick_params(which='major', length=11, labelsize=19.5, pad=4)
    ax.tick_params(which='minor', length=6)
    for sp in ax.spines.values():
        sp.set_linewidth(1.4)
        sp.set_color('#222222')
    return ax


def curve(ax, pts, col, lw=2.7, log=False, **kw):
    p = np.array(pts, dtype=float)
    y = 10.0 ** p[:, 1] if log else p[:, 1]
    ax.plot(p[:, 0] / 1000, y, color=col, lw=lw, solid_joinstyle='round', **kw)


def legend_at(ax, cols, markers, labels, left, center, row, size, ncol=1, hlen=70, col_px=None, lw=1.5):
    handles = [Line2D([], [], color=c, lw=lw, marker=m, ms=3.2) for c, m in zip(cols, markers)]
    em = size / .72
    top = center - em * .5
    kw = {}
    if col_px is not None:
        kw['columnspacing'] = (col_px - hlen) / em - .42 - 3.79
    ax.legend(handles, labels, loc='upper left', bbox_to_anchor=(left / W, 1 - top / H), bbox_transform=fig.transFigure,
              frameon=False, ncol=ncol, prop={'family': SERIF, 'size': size}, borderpad=0, borderaxespad=0,
              handlelength=hlen / em, handletextpad=.42, labelspacing=(row - em * .94) / em, labelcolor='#1a1a1a', **kw)


def arrows(x0, x1, y, xa, xb):
    for s, e in [(xa, x0), (xb, x1)]:
        ov.annotate('', xy=(e, y), xytext=(s, y), arrowprops=dict(arrowstyle='-|>', color='#111111', lw=1.4, mutation_scale=26, shrinkA=0, shrinkB=0))


# ---- 3D panels ----
a_log = np.log10(a_phi)
a_grid = np.tile(a_log, (len(a_y), 1))
surface_3d(0, 0, -3, 0, .05, a_x, a_y, a_grid, [], [-3, -2, -1, 0], ['0.001', '0.01', '0.1', '1'])

b_low = [[-1.3] * 5] * 11
surface_3d(898, 0, -3.28, .7, .05, b_x, grid_y, np.hstack([b_low, b_z]), b_blocks, [-3, -2, -1, 0], ['0.001', '0.01', '0.1', '1'])
c_low = [[-2.0] * 3] * 11
surface_3d(1800, 9, -6.2, .7, .01, c_x, grid_y, np.hstack([c_low, c_z]), c_blocks, [-6, -5, -4, -3, -2, -1, 0],
           ['0.000001', '0.00001', '0.0001', '0.001', '0.01', '0.1', '1'])
d_low = [[-1.3] * 4] * 11
surface_3d(-2, 669, -5.3, .7, .05, d_x, grid_y, np.hstack([d_low, d_z]), d_blocks, [-5, -4, -3, -2, -1, 0],
           ['0.00001', '0.0001', '0.001', '0.01', '0.1', '1'])
e_low = [[-1.16] * 5] * 11
surface_3d(903, 663, -3.95, .7, .07, e_x, grid_y, np.hstack([e_low, e_z]), e_blocks, [-3, -2, -1, 0], ['0.001', '0.01', '0.1', '1'])

colorbar_panel(877, 903, 178, 706)
colorbar_panel(1776, 1802, 189, 717)
colorbar_panel(2712, 2738, 188, 715)
colorbar_panel(878, 904, 837, 1366)
colorbar_panel(1773, 1799, 840, 1368)

for x, y in [(887, 130), (1785, 140), (2721, 138), (887, 789), (1792, 791)]:
    txt(x, y, r'$\varphi$  (eV)', size=30)
for x, y in [(86, 393), (993, 425), (1883, 436), (83, 1092), (997, 1063)]:
    txt(x, y, r'$\varphi$', size=34, rotation=90)
for x, y, s in [(212, 512, '$U$=50 mV'), (1102, 492, '$U$=50 mV'), (2016, 495, '$U$=10 mV'), (202, 1175, '$U$=50 mV'), (1118, 1110, '$U$ =70 mV')]:
    txt(x, y, s, size=27, ha='left')
for (x, y), s, (x2, y2), s2 in [((251, 684), '$x$ (nm)', (752, 668), '$y$ (nm)'), ((1143, 687), '$x$ (nm)', (1635, 666), '$y$ (nm)'),
                                ((2051, 693), '$x$ (nm)', (2550, 677), '$y$ (nm)'), ((246, 1357), '$x$ [nm]', (753, 1339), '$y$ [nm]'),
                                ((1149, 1348), '$x$ (nm)', (1656, 1332), '$y$ (nm)')]:
    txt(x, y, s, size=18, rotation=-38)
    txt(x2, y2, s2, size=20, rotation=52)

# ---- (f) ----
ax = panel_2d(1969, 2742, 849, 1355, (-.5, 4.5), 1, .5)
curve(ax, f_blue, '#2a4a9a', lw=3.6)
curve(ax, f_cyan, '#4dc9cf', lw=3.6)
curve(ax, f_green, '#0db14b', lw=3.6)
curve(ax, f_red, '#f5312e', lw=3.6)
legend_at(ax, ['#2a4a9a', '#4dc9cf', '#0db14b', '#f5312e'], ['s'] * 4,
          ['Sq.:$d_{fx}$= 20 nm; $d_{fy}$=   5 nm', 'Sq.:$d_{fx}$= 20 nm; $d_{fy}$= 10 nm',
           'Sq.:$d_{fx}$= 20 nm; $d_{fy}$= 15 nm', 'Sq.:$d_{fx}$= 20 nm; $d_{fy}$= 20 nm'], 1974, 871, 47, 23, hlen=73)
txt(1989, 1126, '$U$=1 mV', size=23, ha='left')
txt(2234, 1078, 'ds', size=30)
arrows(2155, 2314, 1078, 2215, 2253)

# ---- (g) ----
ax = panel_2d(154, 892, 1534, 2044, (-.5, 4.5), 1, .5)
for pts, c in zip([g1, g2, g3, g4, g5, g6, g7, g8], U_colors):
    curve(ax, pts, c)
legend_at(ax, U_colors, U_markers, U_labels, 680, 1750, 37.6, 22)
txt(169, 1567, 'Sq.: $d_{fx}$= 20nm; $d_{fy}$= 20nm', size=25, ha='left')
txt(268, 2029, r'$\Delta$s', size=30)
arrows(188, 358, 2029, 248, 290)

# ---- (h) ----
ax = panel_2d(1085, 1771, 1528, 2034, (-.25, 3.25), .5, .25, '%.1f')
h_cols = U_colors[:7] + ['#8f2a38']
for pts, c in zip([h1, h2, h3, h4, h5, h6, h7, h8], h_cols):
    curve(ax, pts, c)
legend_at(ax, U_colors, U_markers, U_labels, 1560, 1741, 37.5, 22)
txt(1100, 1560, 'Sq.: $d_{fx}$= 20nm; $d_{fy}$= 15nm', size=25, ha='left')
txt(1203, 2019, r'$\Delta$s', size=30)
arrows(1155, 1247, 2019, 1178, 1228)

# ---- (i) ----
ax = panel_2d(1971, 2726, 1521, 2033, (-.25, 2.25), .5, .25, '%.1f')
for pts, c in zip([i1, i2, i3, i4, i5, i6, i7, i8], U_colors):
    curve(ax, pts, c)
legend_at(ax, [U_colors[n] for n in two_col], [U_markers[n] for n in two_col], [U_labels[n] for n in two_col],
          2245, 1851, 38.5, 22, ncol=2, hlen=74, col_px=228)
txt(1990, 1557, 'Sq.: $d_{fx}$= 20nm; $d_{fy}$= 10nm', size=25, ha='left')
txt(2147, 2018, r'$\Delta$s', size=30)
arrows(2100, 2192, 2018, 2124, 2170)

# ---- (j) ----
ax = panel_2d(172, 898, 2221, 2726, (-.25, 2.5), .5, .25, '%.1f')
for pts, c in zip([j1, j2, j3, j4, j5, j6, j7, j8], U_colors):
    curve(ax, pts, c, lw=1.8, marker='o', ms=3)
legend_at(ax, [U_colors[n] for n in two_col], [U_markers[n] for n in two_col], [U_labels[n] for n in two_col],
          460, 2596, 37.7, 22, ncol=2, hlen=72, col_px=220)
txt(190, 2253, 'Zg.: $d_{fx}$= 20 nm;  $d_{cx}$= 20 nm;  $d_{cy}$= 60 nm;', size=25, ha='left')

# ---- (k) ----
ax = panel_2d(1105, 1762, 2218, 2727, (10.0 ** -62.4, 10.0 ** -50.4), logy=True)
k_exp = [-61, -59, -57, -55, -53, -51]
ax.yaxis.set_major_locator(FixedLocator([10.0 ** e for e in range(-62, -50)]))
ax.yaxis.set_minor_locator(FixedLocator([m * 10.0 ** e for e in range(-63, -50) for m in range(2, 10)]))
ax.yaxis.set_major_formatter(matplotlib.ticker.FuncFormatter(
    lambda v, pos: ('1x10$^{\\mathregular{%d}}$' % round(np.log10(v))) if round(np.log10(v)) in k_exp else ''))
ax.yaxis.set_minor_formatter(NullFormatter())
k_cols = U_colors[:7] + ['#8f2a38']
for pts, c in zip([k1, k2, k3, k4, k5, k6, k7, k8], k_cols):
    curve(ax, pts, c, log=True)
legend_at(ax, U_colors, U_markers, U_labels, 1534, 2407, 41.4, 24, hlen=78)
txt(1254, 2427, 'Zg.: $d_{fx}$= 20 nm;', size=25, ha='left')
txt(1326, 2482, '$d_{cx}$=  0 nm;', size=25, ha='left')
txt(1326, 2535, '$d_{cy}$= 60 nm.', size=25, ha='left')

# ---- (l) ----
ax = panel_2d(1967, 2717, 2221, 2729, (-.5, 4.5), 1, .5)
for pts, c in zip([l1, l2, l3, l4, l5, l6, l7, l8], U_colors):
    curve(ax, pts, c)
legend_at(ax, U_colors, U_markers, ['$U$ = %d mV' % n for n in range(1, 9)], 2475, 2409, 41.4, 24, hlen=78)
txt(1995, 2269, 'Tg.: $d_{fx}$ = 40 nm;', size=25, ha='left')
txt(2064, 2324, '$d_{cy}$= 20 nm.', size=25, ha='left')

# ---- panel letters and shared labels ----
letters = [('(a)', 112, 114), ('(b)', 1023, 115), ('(c)', 1938, 115), ('(d)', 113, 775), ('(e)', 1037, 773), ('(f)', 1945, 769),
           ('(g)', 130, 1436), ('(h)', 1053, 1436), ('(i)', 1950, 1434), ('(j)', 130, 2138), ('(k)', 1059, 2136), ('(l)', 1943, 2138)]
for s, x, y in letters:
    txt(x, y, s, size=33, weight='bold', ha='left', color='#111111')
for x, y in [(83, 1776), (1899, 1106), (993, 1776), (1877, 1776), (80, 2483), (991, 2480), (1894, 2501)]:
    txt(x, y, r'$\mathbf{T}_{\mathbf{m\,n}}$', size=34, rotation=90)
for x, y in [(522, 2126), (2355, 1423), (1432, 2122), (2360, 2121), (535, 2799), (1432, 2804), (2344, 2799)]:
    txt(x, y, '$E$ (eV)', size=21)

fig.savefig('out.png', dpi=100)
